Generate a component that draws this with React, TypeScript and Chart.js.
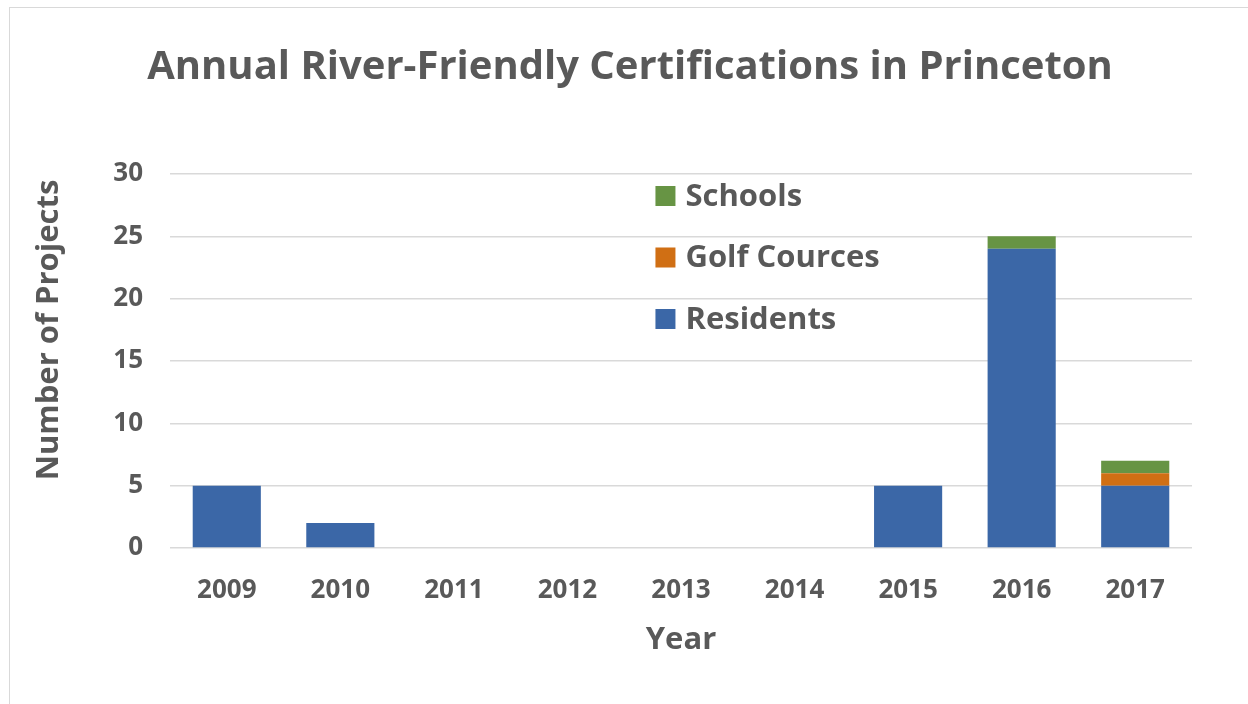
import React, { useEffect, useRef } from "react";
import { Chart, registerables } from "chart.js";

Chart.register(...registerables);

const years = ["2009", "2010", "2011", "2012", "2013", "2014", "2015", "2016", "2017"];
const residents = [5, 2, 0, 0, 0, 0, 5, 24, 5];
const golfCourses = [0, 0, 0, 0, 0, 0, 0, 0, 1];
const schools = [0, 0, 0, 0, 0, 0, 0, 1, 1];
const yTicks = [0, 5, 10, 15, 20, 25, 30];

const chartTitle = "Annual River-Friendly Certifications in Princeton";
const yTitle = "Number of Projects";
const FONT = "'Open Sans', Lato, sans-serif";
const TEXT = "#595959";

const overlayPlugin = {
  id: "overlay",
  afterDraw(chart: any) {
    const { ctx, chartArea, width } = chart;
    ctx.save();
    ctx.fillStyle = TEXT;
    ctx.font = `bold 40px ${FONT}`;
    ctx.textAlign = "center";
    ctx.textBaseline = "middle";
    ctx.fillText(chartTitle, width / 2 + 1, 60);

    // y axis title, placed a little above the plot centre as in the reference
    ctx.save();
    ctx.font = `bold 31px ${FONT}`;
    ctx.translate(chartArea.left - 121, chartArea.top + (chartArea.bottom - chartArea.top) * 0.417);
    ctx.rotate(-Math.PI / 2);
    ctx.fillText(yTitle, 0, 0);
    ctx.restore();

    // legend (reverse order, like the reference)
    const ds = chart.data.datasets.slice().reverse();
    const x0 = chartArea.left + (chartArea.right - chartArea.left) * 0.475;
    const y0 = chartArea.top + 22;
    const step = 61.5;
    ctx.font = `bold 31px ${FONT}`;
    ctx.textAlign = "left";
    ds.forEach((d: any, i: number) => {
      const cy = y0 + i * step;
      ctx.fillStyle = d.backgroundColor;
      ctx.fillRect(x0, cy - 10, 20, 20);
      ctx.fillStyle = TEXT;
      ctx.fillText(d.label, x0 + 30, cy + 1);
    });
    ctx.restore();
  },
};

export default function App() {
  const ref = useRef<HTMLCanvasElement>(null);
  useEffect(() => {
    if (!ref.current) return;
    const chart = new Chart(ref.current, {
      type: "bar",
      data: {
        labels: years,
        datasets: [
          { label: "Residents", data: residents, backgroundColor: "#3b67a7" },
          { label: "Golf Cources", data: golfCourses, backgroundColor: "#d06f14" },
          { label: "Schools", data: schools, backgroundColor: "#679444" },
        ],
      },
      options: {
        animation: false,
        responsive: false,
        maintainAspectRatio: false,
        layout: { padding: { top: 166, left: 20, right: 56, bottom: 0 } },
        datasets: { bar: { categoryPercentage: 1, barPercentage: 0.6 } } as any,
        plugins: {
          legend: { display: false },
          title: { display: false },
          tooltip: { enabled: false },
        },
        scales: {
          x: {
            stacked: true,
            grid: { display: false, drawTicks: false },
            border: { display: false },
            ticks: { color: TEXT, font: { family: FONT, size: 26, weight: "bold" }, padding: 27 },
            title: {
              display: true,
              text: "Year",
              color: TEXT,
              font: { family: FONT, size: 31, weight: "bold" },
              padding: { top: 0, bottom: 47 },
            },
            afterFit(scale: any) {
              scale.height = 158;
            },
          },
          y: {
            stacked: true,
            min: 0,
            max: 30,
            afterBuildTicks(scale: any) {
              scale.ticks = yTicks.map((v) => ({ value: v }));
            },
            grid: { color: "#d9d9d9", lineWidth: 1.5, drawTicks: false },
            border: { display: false },
            ticks: { color: TEXT, font: { family: FONT, size: 26, weight: "bold" }, padding: 27 },
            title: { display: false },
            afterFit(scale: any) {
              scale.width = 140;
            },
          },
        },
      } as any,
      plugins: [overlayPlugin],
    });
    return () => chart.destroy();
  }, []);

  return (
    <div
      style={{
        position: "absolute",
        left: 9,
        top: 7,
        width: 1240,
        height: 700,
        border: "1px solid #d9d9d9",
        boxSizing: "border-box",
        background: "#fff",
      }}
    >
      <canvas ref={ref} width={1238} height={698} style={{ display: "block" }} />
    </div>
  );
}
